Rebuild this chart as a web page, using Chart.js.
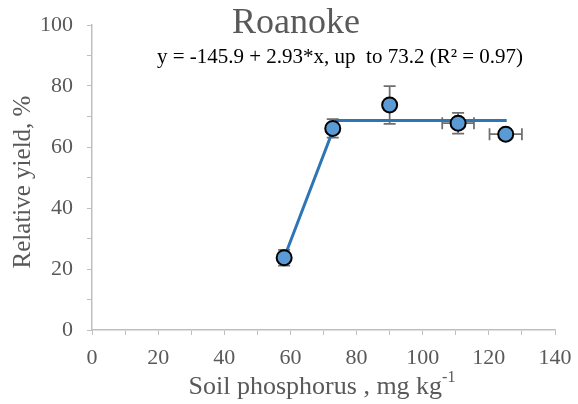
<!DOCTYPE html>
<html>
<head>
<meta charset="utf-8">
<script src="https://cdn.jsdelivr.net/npm/chart.js@4.4.1/dist/chart.umd.min.js"></script>
<style>
  html, body { margin: 0; padding: 0; background: #fff; }
  #wrap { width: 578px; height: 404px; }
</style>
</head>
<body>
<div id="wrap"><canvas id="myChart" width="578" height="404"></canvas></div>
<script>
// soil test P vs relative yield, Roanoke site
const soilP = [58.1, 72.8, 90.0, 110.7, 125.1];
const relYield = [23.7, 66.1, 73.8, 67.8, 64.2];
const yieldErr = [2.6, 3.0, 6.2, 3.4, 0];
const soilPErr = [0, 0, 0, 4.8, 4.9];

// linear-plateau fit as drawn
const fitX = [58.1, 74.0, 125.4];
const fitY = [23.7, 68.7, 68.7];

const xTicks = [0, 20, 40, 60, 80, 100, 120, 140];
const yTicks = [0, 20, 40, 60, 80, 100];

const titleText = 'Roanoke';
const fitText = 'y = -145.9 + 2.93*x, up  to 73.2 (R\u00B2 = 0.97)';
const xTitle = 'Soil phosphorus , mg kg';
const xTitleSup = '-1';
const yTitle = 'Relative yield, %';

const serif = '"Liberation Serif", "Times New Roman", serif';
const grey = '#595959';
const axisGrey = '#bfbfbf';

const points = soilP.map((x, i) => ({ x: x, y: relYield[i] }));
const fitLine = fitX.map((x, i) => ({ x: x, y: fitY[i] }));

// error bars drawn through the chart scales
const errorBars = {
  id: 'errorBars',
  beforeDatasetsDraw(chart) {
    const { ctx, scales: { x, y } } = chart;
    ctx.save();
    ctx.strokeStyle = '#6f6f6f';
    ctx.lineWidth = 1.75;
    const cap = 6;
    points.forEach((p, i) => {
      const px = x.getPixelForValue(p.x);
      const py = y.getPixelForValue(p.y);
      if (yieldErr[i] > 0) {
        const top = y.getPixelForValue(p.y + yieldErr[i]);
        const bot = y.getPixelForValue(p.y - yieldErr[i]);
        ctx.beginPath();
        ctx.moveTo(px, top); ctx.lineTo(px, bot);
        ctx.moveTo(px - cap, top); ctx.lineTo(px + cap, top);
        ctx.moveTo(px - cap, bot); ctx.lineTo(px + cap, bot);
        ctx.stroke();
      }
      if (soilPErr[i] > 0) {
        const l = x.getPixelForValue(p.x - soilPErr[i]);
        const r = x.getPixelForValue(p.x + soilPErr[i]);
        ctx.beginPath();
        ctx.moveTo(l, py); ctx.lineTo(r, py);
        ctx.moveTo(l, py - cap); ctx.lineTo(l, py + cap);
        ctx.moveTo(r, py - cap); ctx.lineTo(r, py + cap);
        ctx.stroke();
      }
    });
    ctx.restore();
  }
};

// title, fit equation and axis titles
const labels = {
  id: 'labels',
  afterDraw(chart) {
    const ctx = chart.ctx;
    ctx.save();
    ctx.textBaseline = 'alphabetic';
    ctx.textAlign = 'center';

    ctx.fillStyle = grey;
    ctx.font = '36px ' + serif;
    ctx.fillText(titleText, 296, 33);

    ctx.fillStyle = '#000';
    ctx.font = '21px ' + serif;
    ctx.fillText(fitText, 340, 63);

    // x axis title with superscript
    ctx.fillStyle = grey;
    ctx.font = '26px ' + serif;
    ctx.textAlign = 'left';
    const w1 = ctx.measureText(xTitle).width;
    ctx.font = '16px ' + serif;
    const w2 = ctx.measureText(xTitleSup).width;
    const x0 = 322 - (w1 + w2) / 2;
    ctx.font = '26px ' + serif;
    ctx.fillText(xTitle, x0, 394);
    ctx.font = '16px ' + serif;
    ctx.fillText(xTitleSup, x0 + w1, 382);

    // y axis title
    ctx.font = '25px ' + serif;
    ctx.textAlign = 'center';
    ctx.translate(30, 182);
    ctx.rotate(-Math.PI / 2);
    ctx.fillText(yTitle, 0, 0);
    ctx.restore();
  }
};

const tickCallback = (list) => function (value) {
  return list.includes(value) ? String(value) : '';
};

new Chart(document.getElementById('myChart'), {
  type: 'scatter',
  data: {
    datasets: [
      {
        label: 'Relative yield',
        data: points,
        pointRadius: 7.5,
        pointBackgroundColor: '#5b9bd5',
        pointBorderColor: '#000',
        pointBorderWidth: 2,
        showLine: false,
        order: 0
      },
      {
        type: 'line',
        label: 'Linear-plateau',
        data: fitLine,
        borderColor: '#2e75b6',
        borderWidth: 3,
        pointRadius: 0,
        fill: false,
        tension: 0,
        order: 1
      }
    ]
  },
  options: {
    responsive: false,
    animation: false,
    layout: { padding: { top: 25, right: 23, left: 0, bottom: 0 } },
    plugins: {
      legend: { display: false },
      tooltip: { enabled: false }
    },
    scales: {
      x: {
        type: 'linear',
        min: 0,
        max: 140,
        afterFit: (s) => { s.height = 74; s.paddingLeft = 0; s.paddingRight = 0; },
        ticks: {
          stepSize: 10,
          autoSkip: false,
          maxRotation: 0,
          padding: 10,
          color: grey,
          font: { family: serif, size: 22 },
          callback: tickCallback(xTicks)
        },
        grid: { drawOnChartArea: false, tickLength: 5, color: axisGrey },
        border: { color: axisGrey, width: 1.5 }
      },
      y: {
        min: 0,
        max: 100,
        afterFit: (s) => { s.width = 92; s.paddingTop = 0; s.paddingBottom = 0; },
        ticks: {
          stepSize: 10,
          autoSkip: false,
          padding: 14,
          color: grey,
          font: { family: serif, size: 22 },
          callback: tickCallback(yTicks)
        },
        grid: { drawOnChartArea: false, tickLength: 5, color: axisGrey },
        border: { color: axisGrey, width: 1.5 }
      }
    }
  },
  plugins: [errorBars, labels]
});
</script>
</body>
</html>
